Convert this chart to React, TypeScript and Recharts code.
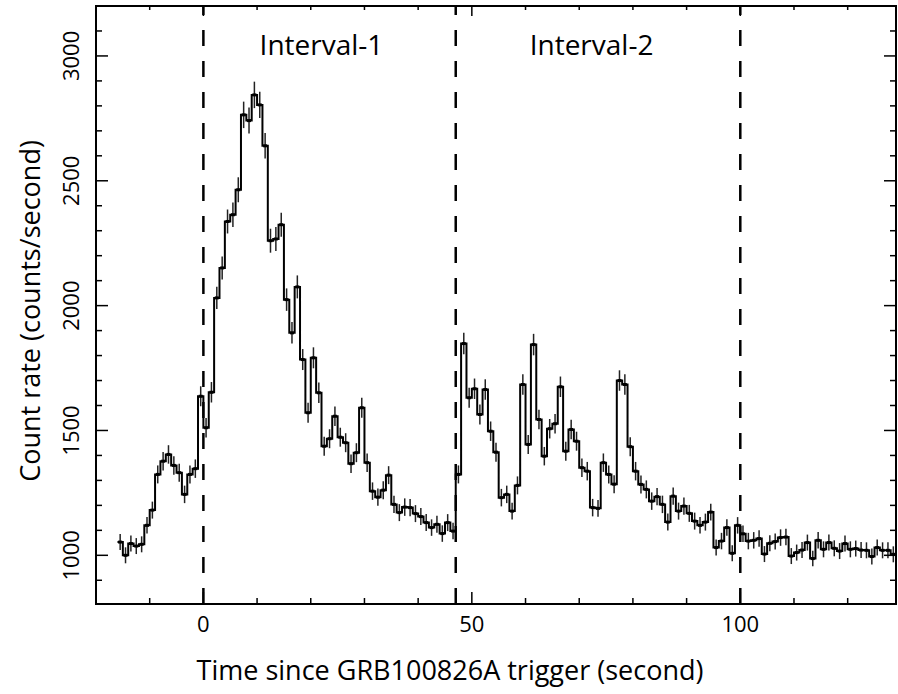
import {
  ComposedChart,
  ErrorBar,
  Label,
  Line,
  ReferenceArea,
  ReferenceLine,
  Scatter,
  XAxis,
  YAxis,
} from "recharts";

// light curve, 1 s bins, centre of first bin at -15.5 s
const FIRST_BIN = -15.5;
const BIN_WIDTH = 1;

const RATE = [
  1053, 1000, 1047, 1037, 1044, 1120, 1181, 1324, 1377, 1404, 1360, 1331, 1244, 1324, 1347,
  1637, 1511, 1653, 2031, 2151, 2337, 2364, 2464, 2764, 2741, 2844, 2804, 2640, 2260, 2267, 2324, 2024, 1891, 2075, 1784,
  1571, 1791, 1651, 1437, 1467, 1557, 1473, 1451, 1367, 1411, 1591, 1371, 1257, 1233, 1261, 1321, 1204, 1171, 1193, 1191,
  1167, 1155, 1131, 1111, 1124, 1087, 1131, 1097,
  1324, 1848, 1631, 1667, 1564, 1664, 1497, 1413, 1231, 1244, 1177, 1280, 1684, 1444, 1844, 1544, 1397, 1507, 1527, 1675,
  1417, 1504, 1457, 1351, 1337, 1191, 1188, 1371, 1324, 1285,
  1700, 1684, 1435, 1337, 1284, 1264, 1217, 1235, 1204, 1133, 1237, 1177, 1197, 1168, 1137, 1120, 1133, 1173, 1031, 1057,
  1111, 1008, 1120, 1086, 1057, 1060, 1067, 1005,
  1048, 1055, 1071, 1073, 997, 1011, 1021, 1051, 987, 1060, 1024, 1051, 1028, 1017, 1047, 1024, 1027, 1021, 1020, 995,
  1031, 1020, 1020, 1004,
];

const RATE_ERR = [
  32, 32, 32, 32, 32, 33, 34, 36, 37, 37, 37, 36, 35, 36, 37,
  40, 39, 41, 45, 46, 48, 49, 50, 53, 52, 53, 53, 51, 48, 48, 48, 45, 43, 46, 42,
  40, 42, 41, 38, 38, 39, 38, 38, 37, 38, 40, 37, 35, 35, 36, 36, 35, 34, 35, 35,
  34, 34, 34, 33, 34, 33, 34, 33,
  36, 43, 40, 41, 40, 41, 39, 38, 35, 35, 34, 36, 41, 38, 43, 39, 37, 39, 39, 41,
  38, 39, 38, 37, 37, 35, 34, 37, 36, 36,
  41, 41, 38, 37, 36, 36, 35, 35, 35, 34, 35, 34, 35, 34, 34, 33, 34, 34, 32, 33,
  33, 32, 33, 33, 33, 33, 33, 32,
  32, 32, 33, 33, 32, 32, 32, 32, 31, 33, 32, 32, 32, 32, 32, 32, 32, 32, 32, 32,
  32, 32, 32, 32,
];

const INTERVAL_EDGES = [0, 47, 100];
const INTERVAL_NAMES = ["Interval-1", "Interval-2"];

const X_DOMAIN = [-20, 129];
const Y_DOMAIN = [805, 3200];
const X_TICKS = [-10, 0, 10, 20, 30, 40, 50, 60, 70, 80, 90, 100, 110, 120];
const X_LABELS = [0, 50, 100];
const Y_TICKS = [
  900, 1000, 1100, 1200, 1300, 1400, 1500, 1600, 1700, 1800, 1900, 2000,
  2100, 2200, 2300, 2400, 2500, 2600, 2700, 2800, 2900, 3000, 3100,
];
const Y_LABELS = [1000, 1500, 2000, 2500, 3000];

const W = 898;
const H = 694;
const M = { top: 6, right: 2, bottom: 0, left: 0 };
const Y_AXIS_W = 96;
const X_AXIS_H = 90;
const LEFT = M.left + Y_AXIS_W;
const RIGHT = W - M.right;
const TOP = M.top;
const BOTTOM = H - M.bottom - X_AXIS_H;
const FONT = "'Open Sans', sans-serif";

const points = RATE.map((v, i) => ({ t: FIRST_BIN + i * BIN_WIDTH, v, err: RATE_ERR[i] }));
const stepRows = [
  { t: FIRST_BIN - BIN_WIDTH / 2, v: RATE[0] },
  ...points,
  { t: FIRST_BIN + (RATE.length - 0.5) * BIN_WIDTH, v: RATE[RATE.length - 1] },
];

const tickLen = (major: boolean) => (major ? 12 : 6);

// ticks point inwards, mirrored on the top and right sides of the frame
function BottomTick({ x, payload }: any) {
  const major = X_LABELS.includes(payload.value);
  return (
    <g>
      <line x1={x} x2={x} y1={BOTTOM} y2={BOTTOM - tickLen(major)} stroke="#000" strokeWidth={1.5} />
      <line x1={x} x2={x} y1={TOP} y2={TOP + tickLen(major) - 2} stroke="#000" strokeWidth={1.5} />
      {major && (
        <text x={x} y={623} textAnchor="middle" dominantBaseline="central" fontSize={22} fontFamily={FONT} fill="#000">
          {payload.value}
        </text>
      )}
    </g>
  );
}

function LeftTick({ y, payload }: any) {
  const major = Y_LABELS.includes(payload.value);
  return (
    <g>
      <line x1={LEFT} x2={LEFT + tickLen(major)} y1={y} y2={y} stroke="#000" strokeWidth={1.5} />
      <line x1={RIGHT} x2={RIGHT - tickLen(major)} y1={y} y2={y} stroke="#000" strokeWidth={1.5} />
      {major && (
        <text
          x={70}
          y={y}
          transform={`rotate(-90, 70, ${y})`}
          textAnchor="middle"
          dominantBaseline="central"
          fontSize={22}
          fontFamily={FONT}
          fill="#000"
        >
          {payload.value}
        </text>
      )}
    </g>
  );
}

const Marker = ({ cx, cy }: any) => <rect x={cx - 2} y={cy - 1.5} width={4} height={3} fill="#000" />;

export default function App() {
  return (
    <div style={{ position: "absolute", left: 0, top: 0, background: "#fff" }}>
      <ComposedChart width={W} height={H} data={stepRows} margin={M}>
        <XAxis
          dataKey="t"
          type="number"
          domain={X_DOMAIN}
          ticks={X_TICKS}
          interval={0}
          height={X_AXIS_H}
          tickLine={false}
          tick={BottomTick}
          axisLine={{ stroke: "#000", strokeWidth: 2 }}
        >
          <Label
            content={() => (
              <text x={450} y={669} textAnchor="middle" dominantBaseline="central" fontSize={27} fontFamily={FONT} fill="#000">
                Time since GRB100826A trigger (second)
              </text>
            )}
          />
        </XAxis>
        <YAxis
          type="number"
          domain={Y_DOMAIN}
          ticks={Y_TICKS}
          interval={0}
          width={Y_AXIS_W}
          tickLine={false}
          tick={LeftTick}
          axisLine={{ stroke: "#000", strokeWidth: 2 }}
        >
          <Label
            content={() => (
              <text
                x={29}
                y={311}
                transform="rotate(-90, 29, 311)"
                textAnchor="middle"
                dominantBaseline="central"
                fontSize={27}
                fontFamily={FONT}
                fill="#000"
              >
                Count rate (counts/second)
              </text>
            )}
          />
        </YAxis>
        {/* frame: top and right sides */}
        <ReferenceArea
          x1={X_DOMAIN[0]}
          x2={X_DOMAIN[1]}
          y1={Y_DOMAIN[0]}
          y2={Y_DOMAIN[1]}
          fill="none"
          fillOpacity={0}
          stroke="#000"
          strokeWidth={2}
        />
        {INTERVAL_EDGES.map((x) => (
          <ReferenceLine key={x} x={x} stroke="#000" strokeWidth={2.5} strokeDasharray="16 15" />
        ))}
        {INTERVAL_NAMES.map((name, i) => {
          const mid = i === 0 ? 22 : 72.3;
          return (
            <ReferenceArea
              key={name}
              x1={mid - 10}
              x2={mid + 10}
              y1={2994}
              y2={3094}
              fill="none"
              stroke="none"
              label={{ value: name, position: "center", fontSize: 28, fontFamily: FONT, fill: "#000" }}
            />
          );
        })}
        <Line
          dataKey="v"
          type="step"
          stroke="#000"
          strokeWidth={2}
          dot={false}
          activeDot={false}
          isAnimationActive={false}
        />
        <Scatter data={points} dataKey="v" shape={Marker} isAnimationActive={false}>
          <ErrorBar dataKey="err" direction="y" width={0} stroke="#222" strokeWidth={1.5} />
        </Scatter>
      </ComposedChart>
    </div>
  );
}
